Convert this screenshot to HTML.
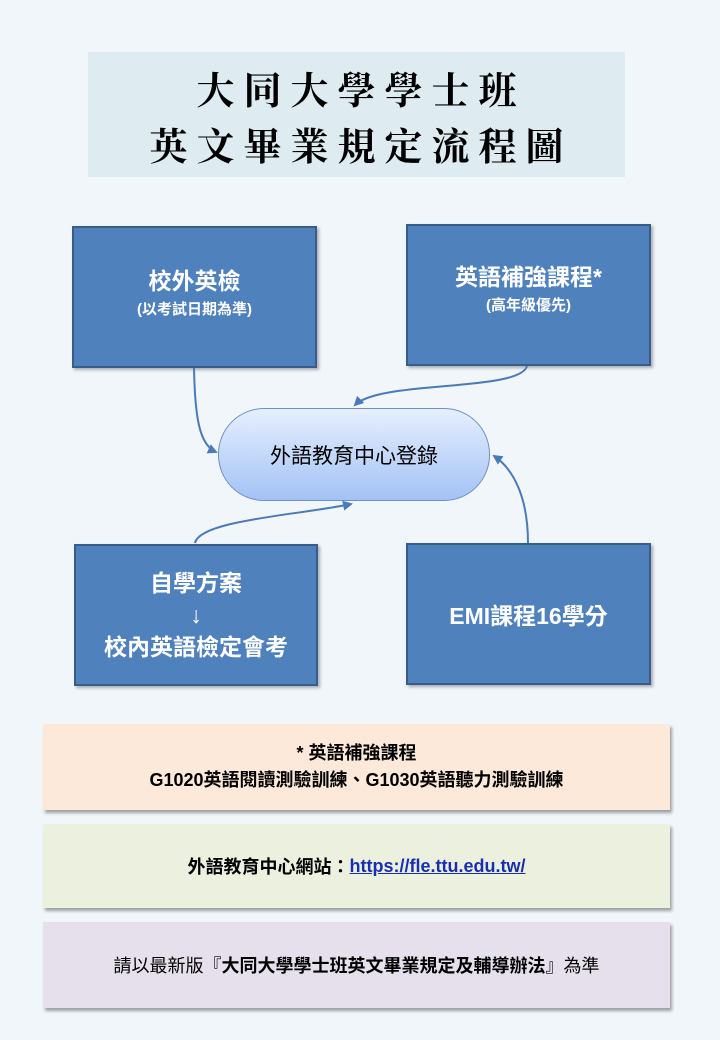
<!DOCTYPE html><html><head><meta charset="utf-8"><style>
body{margin:0;width:720px;height:1040px;background:#f1f6fa;position:relative;font-family:"Liberation Sans","Noto Sans CJK TC",sans-serif;overflow:hidden}
.a{position:absolute;box-sizing:border-box}
.t{left:88px;top:52px;width:537px;height:125px;background:#deecf1;text-align:center;font-family:"Noto Serif CJK SC",serif;font-weight:bold;font-size:38px;line-height:56px;padding-top:8px;letter-spacing:9px;padding-left:9px;color:#000}
.b{background:#4f81bd;border:2px solid #385d8a;color:#fff;text-align:center;display:flex;flex-direction:column;justify-content:center;font-size:23px;font-weight:bold;box-shadow:2px 2px 3px rgba(0,0,0,.3)}
.b small{font-size:15px;display:block;margin-top:2px}
.p{left:218px;top:408px;width:272px;height:93px;border-radius:46px;border:1px solid #6f8fbf;background:linear-gradient(#e6efff,#a3c2f5);display:flex;align-items:center;justify-content:center;font-size:21px;color:#000}
.n{left:43px;width:627px;display:flex;align-items:center;justify-content:center;text-align:center;font-size:18px;box-shadow:2px 3px 3px rgba(0,0,0,.35);color:#000}
</style></head><body>
<div class="a t">大同大學學士班<br>英文畢業規定流程圖</div>
<div class="a b" style="left:72px;top:226px;width:245px;height:142px;padding-bottom:14px">校外英檢<small>(以考試日期為準)</small></div>
<div class="a b" style="left:406px;top:224px;width:245px;height:142px;padding-bottom:18px">英語補強課程*<small>(高年級優先)</small></div>
<div class="a b" style="left:74px;top:544px;width:244px;height:142px;line-height:32px;font-weight:bold">自學方案<br>↓<br>校內英語檢定會考</div>
<div class="a b" style="left:406px;top:543px;width:245px;height:142px">EMI課程16學分</div>
<div class="a p">外語教育中心登錄</div>
<svg class="a" style="left:0;top:0" width="720" height="1040">
<defs><marker id="m" markerWidth="10" markerHeight="10" refX="8" refY="5" orient="auto" markerUnits="userSpaceOnUse"><path d="M0,0L10,5L0,10z" fill="#4a7ab8"/></marker></defs>
<g stroke="#4a7ab8" stroke-width="2" fill="none">
<path d="M194,368 C195,420 200,445 216,452" marker-end="url(#m)"/>
<path d="M527,366 C520,392 380,380 355,405" marker-end="url(#m)"/>
<path d="M195,543 C200,520 300,515 351,504" marker-end="url(#m)"/>
<path d="M528,543 C528,500 515,470 494,456" marker-end="url(#m)"/>
</g></svg>
<div class="a n" style="top:724px;height:86px;background:#fde9d9;font-weight:bold;line-height:27px">* 英語補強課程<br>G1020英語閱讀測驗訓練、G1030英語聽力測驗訓練</div>
<div class="a n" style="top:824px;height:84px;background:#ebf1de;font-weight:bold">外語教育中心網站：<span style="color:#1a2fb0;text-decoration:underline">https://fle.ttu.edu.tw/</span></div>
<div class="a n" style="top:922px;height:86px;background:#e5e0ec">請以最新版『<b>大同大學學士班英文畢業規定及輔導辦法</b>』為準</div>
</body></html>
